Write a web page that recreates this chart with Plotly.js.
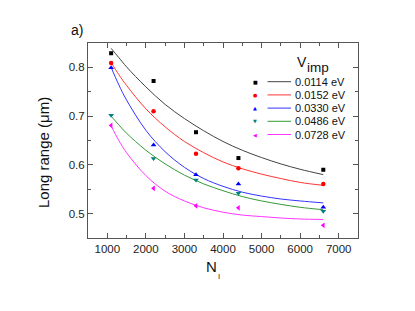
<!DOCTYPE html>
<html>
<head>
<meta charset="utf-8">
<script src="https://cdn.plot.ly/plotly-3.0.1.min.js"></script>
<style>html,body{margin:0;padding:0;background:#fff;}#chart{width:415px;height:311px;}</style>
</head>
<body>
<div id="chart"></div>
<script>
// ---- data ----
const seriesNames = ["0.0114 eV", "0.0152 eV", "0.0330 eV", "0.0486 eV", "0.0728 eV"];
const nI = [1100, 2200, 3300, 4400, 6600];
const range0114 = [0.829, 0.772, 0.667, 0.614, 0.590];
const range0152 = [0.809, 0.710, 0.623, 0.593, 0.561];
const range0330 = [0.799, 0.641, 0.580, 0.561, 0.513];
const range0486 = [0.702, 0.613, 0.569, 0.542, 0.505];
const range0728 = [0.681, 0.552, 0.516, 0.512, 0.476];

// fitted curves
const nIFit = [1100, 1300, 1500, 2000, 2500, 3000, 3500, 4000, 4500, 5000, 5500, 6000, 6600];
const fit0114 = [0.839, 0.820, 0.801, 0.760, 0.724, 0.695, 0.670, 0.648, 0.630, 0.615, 0.602, 0.591, 0.580];
const fit0152 = [0.810, 0.785, 0.763, 0.715, 0.678, 0.648, 0.625, 0.606, 0.592, 0.581, 0.572, 0.564, 0.558];
const fit0330 = [0.800, 0.764, 0.733, 0.671, 0.627, 0.595, 0.572, 0.556, 0.544, 0.536, 0.530, 0.526, 0.522];
const fit0486 = [0.700, 0.682, 0.665, 0.630, 0.602, 0.579, 0.561, 0.547, 0.535, 0.526, 0.519, 0.513, 0.508];
const fit0728 = [0.680, 0.650, 0.625, 0.578, 0.546, 0.526, 0.512, 0.503, 0.497, 0.494, 0.491, 0.489, 0.488];

const xTickVals = [1000, 2000, 3000, 4000, 5000, 6000, 7000];
const yTickVals = [0.5, 0.6, 0.7, 0.8];

// ---- styles ----
const pointColors = ["#000000", "#ff0000", "#0000ff", "#008080", "#ff00ff"];
const lineColors = ["#444444", "#ff3535", "#3535ff", "#359a35", "#ff35ff"];
const symbols = ["square", "circle", "triangle-up", "triangle-down", "triangle-left"];
const glyphs = ["\u25A0", "\u25CF", "\u25B2", "\u25BC", "\u25C0"];
const pointSets = [range0114, range0152, range0330, range0486, range0728];
const fitSets = [fit0114, fit0152, fit0330, fit0486, fit0728];

const FONT = "Arial, 'Liberation Sans', sans-serif";
const L = 88, T = 43, W = 270, H = 195;
const px = x => (x - L) / W;
const py = y => (T + H - y) / H;

const traces = [];
fitSets.forEach((f, i) => {
  traces.push({x: nIFit, y: f, type: "scatter", mode: "lines",
    line: {color: lineColors[i], width: 1, shape: "spline"},
    showlegend: false, hoverinfo: "skip"});
});
pointSets.forEach((p, i) => {
  traces.push({x: nI, y: p, type: "scatter", mode: "markers", name: seriesNames[i],
    marker: {symbol: symbols[i], color: pointColors[i], size: symbols[i] === "square" ? 4 : (symbols[i] === "circle" ? 4.5 : 5), line: {width: 0}},
    showlegend: false});
});

const annotations = [];
const shapes = [];
// legend (manual, compact)
annotations.push({xref: "paper", yref: "paper", x: px(301.5), y: py(62), text: "V", showarrow: false,
  xanchor: "center", yanchor: "middle", font: {family: FONT, size: 14, color: "#111"}});
annotations.push({xref: "paper", yref: "paper", x: px(317.5), y: py(67.5), text: "imp", showarrow: false,
  xanchor: "center", yanchor: "middle", font: {family: FONT, size: 13.5, color: "#111"}});
seriesNames.forEach((n, i) => {
  const ry = 81.7 + 13.2 * i;
  annotations.push({xref: "paper", yref: "paper", x: px(255), y: py(ry), text: glyphs[i], showarrow: false,
    xanchor: "center", yanchor: "middle", font: {family: "DejaVu Sans", size: 5, color: pointColors[i]}});
  annotations.push({xref: "paper", yref: "paper", x: px(292.5), y: py(ry), text: n, showarrow: false,
    xanchor: "left", yanchor: "middle", font: {family: FONT, size: 11, color: "#111"}});
  shapes.push({type: "line", xref: "paper", yref: "paper", x0: px(267.5), x1: px(291), y0: py(ry), y1: py(ry),
    line: {color: lineColors[i], width: 1}});
});
// axis titles & panel label
annotations.push({xref: "paper", yref: "paper", x: px(43.5), y: py(152.5), text: "Long range (\u03bcm)", textangle: -90,
  showarrow: false, xanchor: "center", yanchor: "middle", font: {family: FONT, size: 15, color: "#111"}});
annotations.push({xref: "paper", yref: "paper", x: px(211.7), y: py(266), text: "N", showarrow: false,
  xanchor: "center", yanchor: "middle", font: {family: FONT, size: 15, color: "#111"}});
annotations.push({xref: "paper", yref: "paper", x: px(219), y: py(276.5), text: "I", showarrow: false,
  xanchor: "center", yanchor: "middle", font: {family: FONT, size: 7.5, color: "#111"}});
annotations.push({xref: "paper", yref: "paper", x: px(76.5), y: py(29.5), text: "a)", showarrow: false,
  xanchor: "center", yanchor: "middle", font: {family: FONT, size: 14, color: "#111"}});

const axisCommon = {
  showgrid: false, zeroline: false, showline: true, linecolor: "#555", linewidth: 1,
  mirror: "ticks", ticks: "inside", ticklen: 5, tickcolor: "#555", tickwidth: 1,
  tickfont: {family: FONT, size: 11.5, color: "#222"}
};

const layout = {
  width: 415, height: 311,
  margin: {l: L, r: 415 - L - W, t: T, b: 311 - T - H, pad: 0},
  paper_bgcolor: "#fff", plot_bgcolor: "#fff",
  showlegend: false,
  xaxis: Object.assign({}, axisCommon, {range: [500, 7500], tickmode: "array", tickvals: xTickVals,
    minor: {dtick: 500, tick0: 0, ticks: "inside", ticklen: 3, tickcolor: "#555", showgrid: false}}),
  yaxis: Object.assign({}, axisCommon, {range: [0.45, 0.85], tickmode: "array", tickvals: yTickVals, tickformat: ".1f",
    minor: {dtick: 0.05, tick0: 0, ticks: "inside", ticklen: 3, tickcolor: "#555", showgrid: false}}),
  annotations: annotations,
  shapes: shapes
};

Plotly.newPlot("chart", traces, layout, {staticPlot: true, displayModeBar: false});
</script>
</body>
</html>
